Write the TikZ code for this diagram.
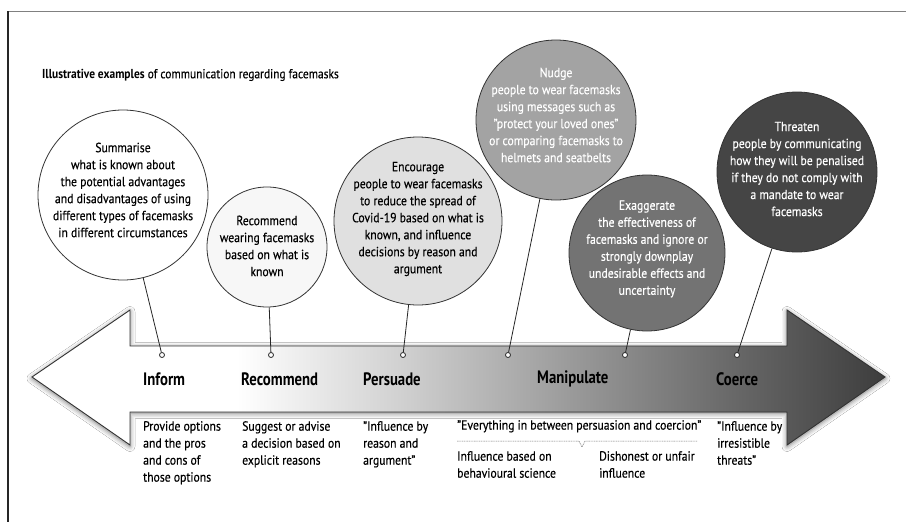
\documentclass[tikz,border=0pt]{standalone}
\usepackage{fontspec}
\setmainfont{PT Sans}[FakeStretch=0.88, UprightFeatures={FakeBold=0.35}]
\usetikzlibrary{shadows.blur}
\pgfdeclarehorizontalshading{arrowshade}{100bp}{%
  color(0bp)=(white); color(37bp)=(white); color(46.5bp)=(black!18);
  color(56.8bp)=(black!40); color(66.5bp)=(black!60); color(75bp)=(black!76);
  color(100bp)=(black!76)}
\tikzset{
  bubble/.style={circle, draw=black!80, line width=0.8pt, inner sep=0pt},
  bubtext/.style={align=center, inner sep=0pt, font=\fontsize{13.3}{17}\selectfont},
  marker/.style={circle, draw=black!85, fill=white, line width=0.8pt, inner sep=0pt, minimum size=5pt},
  stem/.style={draw=black!85, line width=0.8pt},
  lab/.style={anchor=west, inner sep=0pt, font=\addfontfeature{FakeStretch=0.82}\fontsize{18}{20}\selectfont\bfseries},
  desc/.style={anchor=north west, inner sep=0pt, align=left, font=\fontsize{13.3}{17}\selectfont},
  sub/.style={draw=black!55, line width=0.5pt, dash pattern=on 1pt off 0.7pt}
}
\begin{document}
\begin{tikzpicture}[x=1pt,y=-1pt]
\useasboundingbox[fill=white] (0,0) rectangle (906,522);
% frame
\draw[black!50, line width=1.2pt] (8,11.5) -- (906,11.5);
\draw[black!85, line width=1.2pt] (8,11) -- (8,522);
% title
\node[anchor=west, inner sep=0pt, font=\fontsize{13}{15}\selectfont] (title) at (42,75)
  {\textbf{Illustrative examples} of communication regarding facemasks};
% arrow
\path[shading=arrowshade, draw=black!80, line width=0.9pt,
  blur shadow={shadow xshift=0pt, shadow yshift=-1.5pt, shadow blur radius=5pt, shadow opacity=55}]
  (32,377) -- (130,310) -- (130,346) -- (787,346) -- (787,310) -- (885,377)
  -- (787,445) -- (787,412) -- (130,412) -- (130,445) -- cycle;
% markers
\node[marker] (m1) at (162,355) {};
\node[marker] (m2) at (271,355) {};
\node[marker] (m3) at (403,355) {};
\node[marker] (m4) at (508,355) {};
\node[marker] (m5) at (625,355) {};
\node[marker] (m6) at (737,355) {};
% labels
\node[lab] (l1) at (143,379) {Inform};
\node[lab] (l2) at (241,379) {Recommend};
\node[lab] (l3) at (363,379) {Persuade};
\node[lab] (l4) at (537,379) {Manipulate};
\node[lab] (l5) at (716,379) {Coerce};
% bubbles
\node[bubble, fill=white, minimum size=170pt] (c1) at (123,195) {};
\node[bubtext] (t1) at ([yshift=5pt]c1.center)
  {Summarise\\what is known about\\the potential advantages\\and disadvantages of using\\different types of facemasks\\in different circumstances};
\node[bubble, fill=black!3, minimum size=120pt] (c2) at (267,247) {};
\node[bubtext] (t2) at ([yshift=1pt]c2.center)
  {Recommend\\wearing facemasks\\based on what is\\known};
\node[bubble, fill=black!12, minimum size=168pt] (c3) at (418,221) {};
\node[bubtext] (t3) at ([yshift=2pt]c3.center)
  {Encourage\\people to wear facemasks\\to reduce the spread of\\Covid-19 based on what is\\known, and influence\\decisions by reason and\\argument};
\node[bubble, fill=black!36, minimum size=160pt] (c4) at (556,120) {};
\node[bubtext, text=white] (t4) at ([yshift=5pt]c4.center)
  {Nudge\\people to wear facemasks\\using messages such as\\"protect your loved ones"\\or comparing facemasks to\\helmets and seatbelts};
\node[bubble, fill=black!55, minimum size=156pt] (c5) at (647,253) {};
\node[bubtext, text=white] (t5) at ([yshift=4pt]c5.center)
  {Exaggerate\\the effectiveness of\\facemasks and ignore or\\strongly downplay\\undesirable effects and\\uncertainty};
\node[bubble, fill=black!73, minimum size=160pt] (c6) at (797,172) {};
\node[bubtext, text=white] (t6) at ([yshift=3pt]c6.center)
  {Threaten\\people by communicating\\how they will be penalised\\if they do not comply with\\a mandate to wear\\facemasks};
% stems
\draw[stem] (c1) -- (m1);
\draw[stem] (c2) -- (m2);
\draw[stem] (c3) -- (m3);
\draw[stem] (c4) -- (m4);
\draw[stem] (c5) -- (m5);
\draw[stem] (c6) -- (m6);
% descriptions
\node[desc] (d1) at (143,421) {Provide options\\and the pros\\and cons of\\those options};
\node[desc] (d2) at (242,421) {Suggest or advise\\a decision based on\\explicit reasons};
\node[desc] (d3) at (363,421) {"Influence by\\reason and\\argument"};
\node[desc] (d4) at (457,420) {"Everything in between persuasion and coercion"};
\node[desc] (d5) at (457,451) {Influence based on\\behavioural science};
\node[desc] (d6) at (599,451) {Dishonest or unfair\\influence};
\node[desc] (d7) at (717,421) {"Influence by\\irresistible\\threats"};
% split line
\coordinate (s1) at (457,441);
\coordinate (s2) at (579,441);
\coordinate (s3) at (582,447);
\coordinate (s4) at (585,441);
\coordinate (s5) at (697,441);
\draw[sub] (s1) -- (s2) -- (s3) -- (s4) -- (s5);
\end{tikzpicture}
\end{document}
